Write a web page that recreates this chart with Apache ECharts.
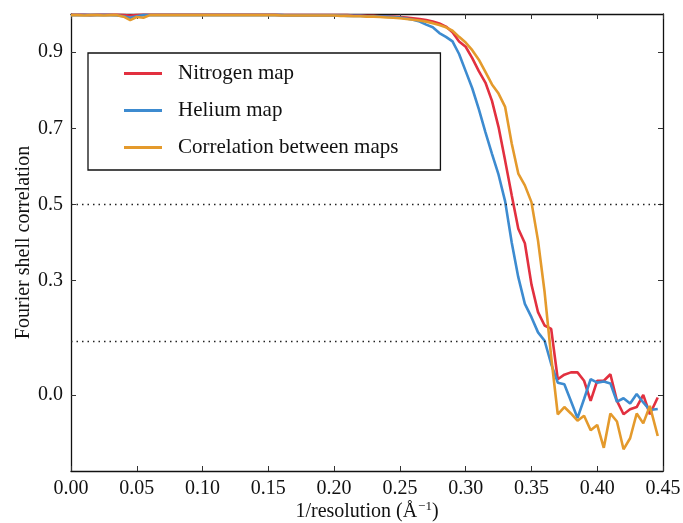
<!DOCTYPE html>
<html>
<head>
<meta charset="utf-8">
<title>Fourier shell correlation</title>
<script src="https://cdn.jsdelivr.net/npm/echarts@6/dist/echarts.min.js"></script>
<style>
  html, body { margin: 0; padding: 0; background: #fff; }
  #chart { width: 683px; height: 523px; }
</style>
</head>
<body>
<div id="chart"></div>
<script>
'use strict';

// spatial frequency shells (1/A)
var freq = [
    0.000, 0.005, 0.010, 0.015, 0.020, 0.025, 0.030, 0.035, 0.040, 0.045,
    0.050, 0.055, 0.060, 0.065, 0.070, 0.075, 0.080, 0.085, 0.090, 0.095,
    0.100, 0.105, 0.110, 0.115, 0.120, 0.125, 0.130, 0.135, 0.140, 0.145,
    0.150, 0.155, 0.160, 0.165, 0.170, 0.175, 0.180, 0.185, 0.190, 0.195,
    0.200, 0.205, 0.210, 0.215, 0.220, 0.225, 0.230, 0.235, 0.240, 0.245,
    0.250, 0.255, 0.260, 0.265, 0.270, 0.275, 0.280, 0.285, 0.290, 0.295,
    0.300, 0.305, 0.310, 0.315, 0.320, 0.325, 0.330, 0.335, 0.340, 0.345,
    0.350, 0.355, 0.360, 0.365, 0.370, 0.375, 0.380, 0.385, 0.390, 0.395,
    0.400, 0.405, 0.410, 0.415, 0.420, 0.425, 0.430, 0.435, 0.440, 0.446
];

var nitrogen = [
    0.998, 0.998, 0.998, 0.997, 0.998, 0.998, 0.998, 0.998, 0.997, 0.996,
    0.997, 0.998, 0.998, 0.998, 0.998, 0.998, 0.998, 0.998, 0.998, 0.998,
    0.998, 0.998, 0.998, 0.998, 0.998, 0.998, 0.998, 0.998, 0.998, 0.998,
    0.998, 0.998, 0.997, 0.997, 0.997, 0.997, 0.997, 0.997, 0.997, 0.997,
    0.997, 0.997, 0.997, 0.996, 0.996, 0.995, 0.995, 0.994, 0.994, 0.993,
    0.992, 0.991, 0.989, 0.987, 0.984, 0.980, 0.975, 0.967, 0.952, 0.928,
    0.914, 0.884, 0.850, 0.820, 0.772, 0.703, 0.615, 0.524, 0.436, 0.398,
    0.290, 0.217, 0.182, 0.173, 0.041, 0.053, 0.059, 0.059, 0.037, -0.016,
    0.037, 0.037, 0.054, -0.016, -0.051, -0.038, -0.032, 0.000, -0.051, -0.007
];

var helium = [
    0.997, 0.997, 0.997, 0.997, 0.997, 0.997, 0.997, 0.996, 0.994, 0.990,
    0.994, 0.997, 0.997, 0.997, 0.997, 0.997, 0.997, 0.997, 0.997, 0.997,
    0.997, 0.997, 0.997, 0.997, 0.997, 0.997, 0.997, 0.997, 0.997, 0.997,
    0.997, 0.997, 0.997, 0.996, 0.996, 0.996, 0.996, 0.996, 0.996, 0.996,
    0.996, 0.996, 0.995, 0.995, 0.995, 0.994, 0.994, 0.993, 0.993, 0.992,
    0.991, 0.988, 0.985, 0.980, 0.972, 0.965, 0.950, 0.940, 0.928, 0.895,
    0.850, 0.805, 0.750, 0.690, 0.633, 0.578, 0.508, 0.400, 0.309, 0.239,
    0.204, 0.164, 0.142, 0.081, 0.032, 0.028, -0.016, -0.061, -0.011, 0.041,
    0.032, 0.035, 0.030, -0.018, -0.009, -0.023, 0.002, -0.020, -0.040, -0.037
];

var correlation = [
    0.997, 0.997, 0.996, 0.997, 0.997, 0.996, 0.997, 0.997, 0.993, 0.984,
    0.992, 0.990, 0.997, 0.997, 0.997, 0.997, 0.997, 0.997, 0.997, 0.997,
    0.997, 0.997, 0.997, 0.997, 0.997, 0.997, 0.997, 0.997, 0.997, 0.997,
    0.997, 0.997, 0.996, 0.996, 0.996, 0.996, 0.996, 0.996, 0.996, 0.996,
    0.996, 0.995, 0.995, 0.994, 0.994, 0.993, 0.993, 0.992, 0.991, 0.990,
    0.989, 0.987, 0.985, 0.983, 0.980, 0.976, 0.971, 0.965, 0.956, 0.940,
    0.925, 0.905, 0.880, 0.848, 0.815, 0.791, 0.756, 0.660, 0.581, 0.550,
    0.506, 0.405, 0.270, 0.100, -0.051, -0.032, -0.049, -0.068, -0.055, -0.093,
    -0.079, -0.139, -0.049, -0.070, -0.143, -0.114, -0.049, -0.075, -0.029, -0.108
];

var xTicks = [0.00, 0.05, 0.10, 0.15, 0.20, 0.25, 0.30, 0.35, 0.40, 0.45];
var yTicks = [0.0, 0.3, 0.5, 0.7, 0.9];
var thresholds = [0.5, 0.143];

var seriesNames = ['Nitrogen map', 'Helium map', 'Correlation between maps'];
var seriesColors = ['#e2303f', '#3d8bd0', '#e49a2c'];

function pairs(ys) {
    var out = [];
    for (var i = 0; i < ys.length; i ++) {
        out.push([freq[i], ys[i]]);
    }
    return out;
}

var font = 'Liberation Serif, Times New Roman, serif';

function frameAxis(type, pos, show, ticks) {
    return {
        type: 'value',
        position: pos,
        min: type === 'x' ? 0 : -0.2,
        max: type === 'x' ? 0.45 : 1.0,
        interval: type === 'x' ? 0.05 : 0.1,
        axisLine: { show: true, onZero: false, lineStyle: { color: '#111', width: 1.3 } },
        axisTick: { show: true, inside: true, length: 5, customValues: ticks, lineStyle: { color: '#333', width: 1 } },
        axisLabel: {
            show: show,
            customValues: ticks,
            color: '#111',
            fontFamily: font,
            fontSize: 20,
            margin: 8,
            formatter: function (v) {
                return type === 'x' ? v.toFixed(2) : v.toFixed(1);
            }
        },
        splitLine: { show: false }
    };
}

var xMain = frameAxis('x', 'bottom', true, xTicks);
xMain.name = '1/resolution (\u00c5{sup|\u22121})';
xMain.nameLocation = 'middle';
xMain.nameMoveOverlap = false;
xMain.nameGap = 29;
xMain.nameTextStyle = {
    color: '#111', fontFamily: font, fontSize: 20,
    rich: { sup: { fontFamily: font, fontSize: 13, color: '#111', padding: [0, 0, 10, 1] } }
};
var yMain = frameAxis('y', 'left', true, yTicks);
yMain.name = 'Fourier shell correlation';
yMain.nameLocation = 'middle';
yMain.nameMoveOverlap = false;
yMain.nameGap = 37;
yMain.nameTextStyle = { color: '#111', fontFamily: font, fontSize: 20 };

var series = [];
var dataSets = [nitrogen, helium, correlation];
for (var s = 0; s < dataSets.length; s ++) {
    series.push({
        name: seriesNames[s],
        type: 'line',
        data: pairs(dataSets[s]),
        showSymbol: false,
        symbol: 'none',
        color: seriesColors[s],
        lineStyle: { width: 2.6, color: seriesColors[s] },
        z: 3 + s,
        animation: false
    });
}
// dotted threshold lines
series[0].markLine = {
    silent: true,
    symbol: ['none', 'none'],
    label: { show: false },
    lineStyle: { type: [1.5, 4], color: '#222', width: 1.3 },
    data: thresholds.map(function (t) { return { yAxis: t }; })
};

var chart = echarts.init(document.getElementById('chart'), null, { renderer: 'canvas' });
chart.setOption({
    animation: false,
    backgroundColor: '#fff',
    grid: { left: 71, right: 20, top: 14, bottom: 52, outerBoundsMode: 'none', containLabel: false },
    xAxis: [xMain, frameAxis('x', 'top', false, xTicks)],
    yAxis: [yMain, frameAxis('y', 'right', false, yTicks)],
    legend: {
        left: 88,
        top: 53,
        orient: 'vertical',
        padding: [10, 42, 12, 36],
        itemGap: 16,
        itemWidth: 38,
        itemHeight: 10,
        borderColor: '#111',
        borderWidth: 1.3,
        borderRadius: 0,
        backgroundColor: '#fff',
        icon: 'path://M0,3.6 L38,3.6 L38,6.4 L0,6.4 Z',
        textStyle: { color: '#111', fontFamily: font, fontSize: 21, padding: [0, 0, 0, 11] },
        data: seriesNames
    },
    series: series
});
</script>
</body>
</html>
